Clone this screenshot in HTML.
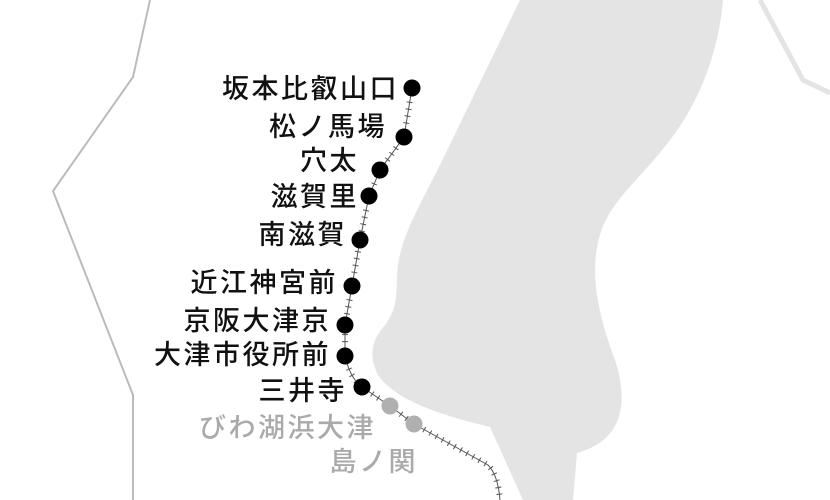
<!DOCTYPE html>
<html><head><meta charset="utf-8"><style>
html,body{margin:0;padding:0;background:#fff;}
svg{display:block;}
text{font-family:"Liberation Sans","Noto Sans CJK JP",sans-serif;font-size:27px;letter-spacing:2.5px;font-weight:500;}
</style></head><body>
<svg width="830" height="500" viewBox="0 0 830 500" xmlns="http://www.w3.org/2000/svg">
<path d="M520,0 L723,0 C720,40 705,95 670,140 C640,180 610,200 600,235 C588,275 600,320 615,360 C628,400 625,440 577,453 L573,500 L523,500 L490,427 C440,415 395,400 378,375 C368,355 372,340 385,325 C400,305 395,290 398,265 C402,235 420,205 440,165 Z" fill="#e4e4e4"/>
<polyline points="150,0 133,77 53,191 133,395 133,500" fill="none" stroke="#bbb" stroke-width="2"/>
<polyline points="760,0 803,80 830,93" fill="none" stroke="#e4e4e4" stroke-width="5"/>
<path d="M412,88 L404,137 L380,170 L369,196 L360,240 L352,286 L345,325 L345,356 Q350,378 362,387 L390,406 L414,424 L488,465 Q498,475 500,500" fill="none" stroke="#555" stroke-width="1"/>
<path d="M412,88 L404,137 L380,170 L369,196 L360,240 L352,286 L345,325 L345,356 Q350,378 362,387 L390,406 L414,424 L488,465 Q498,475 500,500" fill="none" stroke="#555" stroke-width="6" stroke-dasharray="1 6"/>
<g fill="#000">
<circle cx="412" cy="88" r="8.5"/><circle cx="404" cy="137" r="8.5"/><circle cx="380" cy="170" r="8.5"/>
<circle cx="369" cy="196" r="8.5"/><circle cx="360" cy="240" r="8.5"/><circle cx="352" cy="286" r="8.5"/>
<circle cx="345" cy="325" r="8.5"/><circle cx="345" cy="356" r="8.5"/><circle cx="362" cy="387" r="8.5"/>
</g>
<g fill="#b0b0b0"><circle cx="390" cy="406" r="8.5"/><circle cx="414" cy="424" r="8.5"/></g>
<g fill="#111" text-anchor="end" dominant-baseline="central">
<text x="399" y="89">坂本比叡山口</text>
<text x="387" y="127">松ノ馬場</text>
<text x="359" y="161">穴太</text>
<text x="359" y="197">滋賀里</text>
<text x="347" y="235">南滋賀</text>
<text x="338" y="283">近江神宮前</text>
<text x="331" y="321">京阪大津京</text>
<text x="331" y="355">大津市役所前</text>
<text x="347" y="391">三井寺</text>
</g>
<g fill="#aaa" text-anchor="end" dominant-baseline="central">
<text x="376" y="428">びわ湖浜大津</text>
<text x="418" y="462">島ノ関</text>
</g>
</svg>
</body></html>
